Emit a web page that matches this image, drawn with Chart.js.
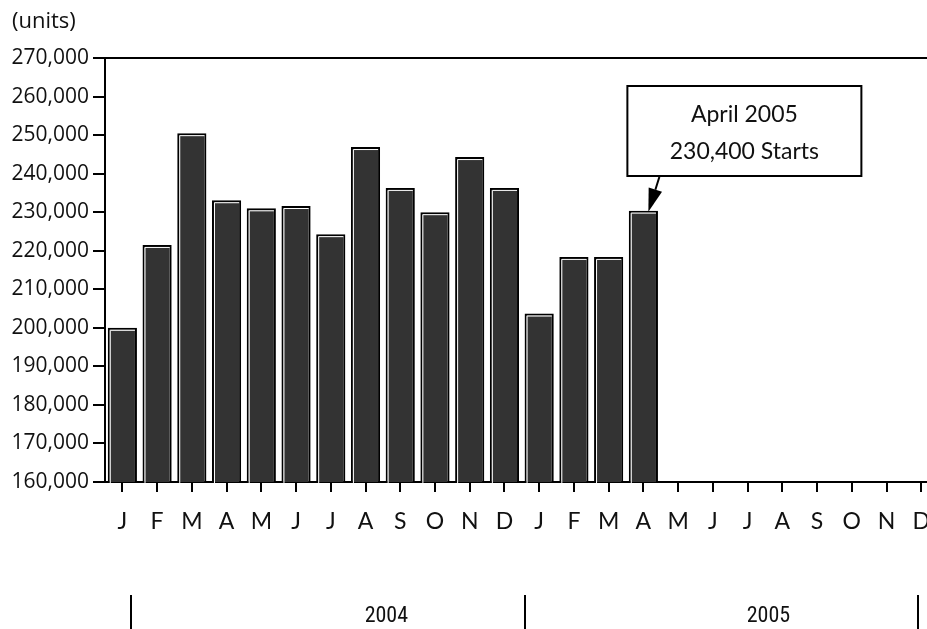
<!DOCTYPE html>
<html>
<head>
<meta charset="utf-8">
<script src="https://cdn.jsdelivr.net/npm/chart.js@4"></script>
<style>
  html, body { margin: 0; padding: 0; background: #fff; overflow: hidden; width: 927px; height: 629px; }
  #wrap { position: relative; width: 946px; height: 629px; }
  #units { position: absolute; left: 12px; top: 4px; font: 22px "Open Sans", sans-serif; color: #111; }
</style>
</head>
<body>
<div id="wrap">
  <canvas id="c" width="946" height="629"></canvas>
  <div id="units">(units)</div>
</div>
<script>
// ---- data ----
const months = ['J','F','M','A','M','J','J','A','S','O','N','D','J','F','M','A','M','J','J','A','S','O','N','D'];
const starts = [200000, 221500, 250500, 233100, 231000, 231600, 224300, 246900, 236300, 230000, 244300, 236300,
                203700, 218400, 218400, 230400, null, null, null, null, null, null, null, null];
const yMin = 160000;
const yMax = 270000;
const yStep = 10000;
const years = ['2004', '2005'];
const calloutIndex = 15;
const calloutLines = ['April 2005', '230,400 Starts'];

const lightFont = 'Lato, "Open Sans", sans-serif';
const narrowFont = '"Roboto Condensed", "DejaVu Sans Condensed", sans-serif';

const bevel = {
  id: 'bevel',
  afterDatasetsDraw(chart) {
    const ctx = chart.ctx;
    const meta = chart.getDatasetMeta(0);
    ctx.save();
    ctx.strokeStyle = '#ffffff';
    ctx.lineWidth = 1;
    meta.data.forEach((el, i) => {
      if (starts[i] == null) return;
      const p = el.getProps(['x', 'y', 'width', 'base'], true);
      const l = p.x - p.width / 2;
      ctx.beginPath();
      ctx.moveTo(l + 2.5, p.base);
      ctx.lineTo(l + 2.5, p.y + 2.5);
      ctx.lineTo(l + p.width - 2, p.y + 2.5);
      ctx.stroke();
    });
    ctx.restore();
  }
};

const extras = {
  id: 'extras',
  afterDraw(chart) {
    const ctx = chart.ctx;
    const xs = chart.scales.x;
    const ca = chart.chartArea;
    ctx.save();
    // top frame line
    ctx.strokeStyle = '#000';
    ctx.lineWidth = 2;
    ctx.beginPath();
    ctx.moveTo(ca.left, ca.top);
    ctx.lineTo(ca.right, ca.top);
    ctx.stroke();

    // year band
    const sepIdx = [0.26, 11.6, 22.9];
    const yrIdx = [7.6, 18.6];
    ctx.lineWidth = 2;
    sepIdx.forEach(v => {
      const px = Math.round(xs.getPixelForValue(v));
      ctx.beginPath();
      ctx.moveTo(px, 595);
      ctx.lineTo(px, 629);
      ctx.stroke();
    });
    ctx.fillStyle = '#111';
    ctx.font = '22px ' + narrowFont;
    ctx.textAlign = 'center';
    ctx.textBaseline = 'middle';
    years.forEach((t, i) => ctx.fillText(t, xs.getPixelForValue(yrIdx[i]), 616));

    // callout
    const bar = chart.getDatasetMeta(0).data[calloutIndex];
    const bx = bar.x, by = bar.y;
    const boxL = bx - 16, boxT = ca.top + 28, boxW = 234, boxH = 90;
    ctx.fillStyle = '#fff';
    ctx.fillRect(boxL, boxT, boxW, boxH);
    ctx.strokeStyle = '#000';
    ctx.lineWidth = 2;
    ctx.strokeRect(boxL, boxT, boxW, boxH);
    ctx.fillStyle = '#111';
    ctx.font = '23px ' + lightFont;
    ctx.fillText(calloutLines[0], boxL + boxW / 2, boxT + 29);
    ctx.fillText(calloutLines[1], boxL + boxW / 2, boxT + 66);
    // arrow
    const sx = bx + 16, sy = boxT + boxH + 1;
    const tx = bx + 5, ty = by + 1;
    const ang = Math.atan2(ty - sy, tx - sx);
    const hl = 23, hw = 7;
    const hx = tx - hl * Math.cos(ang), hy = ty - hl * Math.sin(ang);
    ctx.beginPath();
    ctx.moveTo(sx, sy);
    ctx.lineTo(hx, hy);
    ctx.stroke();
    ctx.beginPath();
    ctx.moveTo(tx, ty);
    ctx.lineTo(hx + hw * Math.sin(ang), hy - hw * Math.cos(ang));
    ctx.lineTo(hx - hw * Math.sin(ang), hy + hw * Math.cos(ang));
    ctx.closePath();
    ctx.fillStyle = '#000';
    ctx.fill();
    ctx.restore();
  }
};

new Chart(document.getElementById('c'), {
  type: 'bar',
  data: {
    labels: months,
    datasets: [{
      data: starts,
      backgroundColor: '#333333',
      borderColor: '#000000',
      borderWidth: 2,
      borderSkipped: 'bottom',
      barPercentage: 0.84,
      categoryPercentage: 1.0
    }]
  },
  options: {
    responsive: false,
    animation: false,
    events: [],
    layout: { padding: { top: 58, right: 0, bottom: 0, left: 0 } },
    plugins: { legend: { display: false }, tooltip: { enabled: false } },
    scales: {
      x: {
        offset: true,
        afterFit(s) { s.height = 147; },
        grid: { display: true, offset: false, drawOnChartArea: false, tickLength: 10, tickColor: '#000', lineWidth: 2 },
        border: { display: true, color: '#000', width: 2 },
        ticks: { color: '#111', font: { family: lightFont, size: 23, weight: '400' }, padding: 16, maxRotation: 0, autoSkip: false }
      },
      y: {
        min: yMin, max: yMax,
        afterFit(s) { s.width = 105; },
        grid: {
          drawOnChartArea: true,
          color: ctx => 'rgba(0,0,0,0)',
          tickColor: '#000', tickLength: 12, lineWidth: 2
        },
        border: { display: true, color: '#000', width: 2 },
        ticks: {
          stepSize: yStep, color: '#111', padding: 4,
          font: { family: '"Open Sans", sans-serif', size: 21 },
          callback: v => v.toLocaleString('en-US')
        }
      }
    }
  },
  plugins: [bevel, extras]
});
</script>
</body>
</html>
